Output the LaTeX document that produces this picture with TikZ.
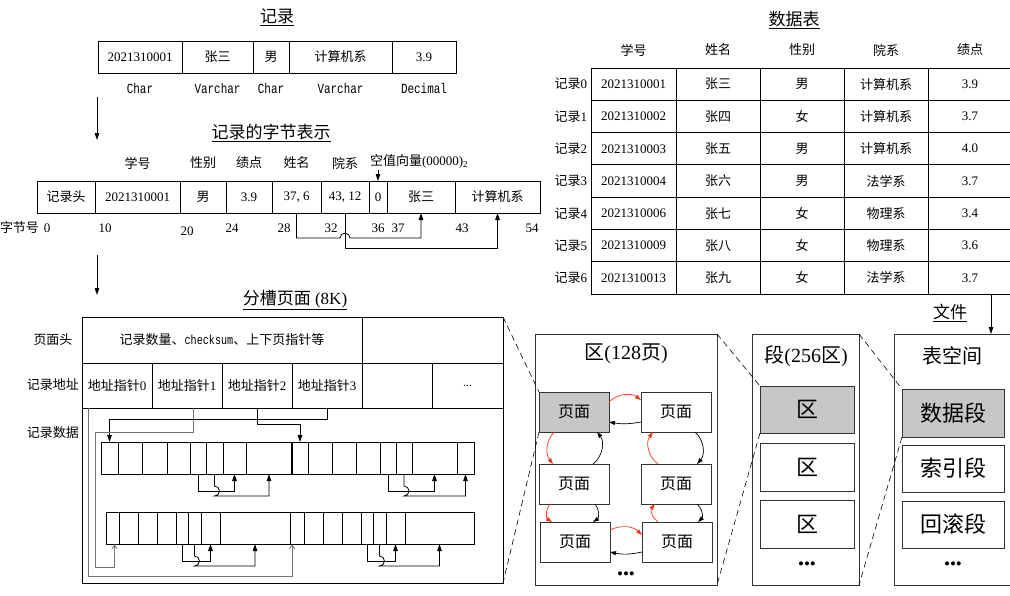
\documentclass[tikz,border=0pt]{standalone}
\usepackage{fontspec}
\setmainfont{Liberation Serif}
\setmonofont{Liberation Mono}
\newfontfamily\condmono[FakeStretch=0.78]{Liberation Mono}
\newfontfamily\cjk{Noto Sans CJK SC}
\usetikzlibrary{arrows.meta,calc}
\newcommand\fsz[1]{\fontsize{#1}{#1}\selectfont}
\newcommand\zh[1]{{\cjk #1}}
\definecolor{myred}{RGB}{240,55,20}
\begin{document}
\begin{tikzpicture}[x=1pt,y=-1pt,
  every node/.style={inner sep=0pt,outer sep=0pt},
  cell/.style={draw,line width=0.9pt,anchor=north west,font=\fsz{13}},
  rc/.style={draw,line width=0.9pt,anchor=north west,minimum height=32pt},
  lbl/.style={font=\fsz{13}},
  ttl/.style={font=\fsz{17}},
  tp/.style={font=\fsz{14}\condmono},
  big/.style={draw=black!80,line width=1pt,anchor=north west},
  pg/.style={draw=black!80,line width=0.9pt,anchor=north west,minimum width=70pt,minimum height=40pt,font=\fsz{16}},
  gfill/.style={fill=black!22},
  dotsx/.style={font=\fsz{17}},
  arr/.style={-{Triangle[length=7pt,width=4.5pt]},line width=0.8pt},
  garr/.style={-{Straight Barb[length=4pt,width=5pt]},line width=0.8pt,draw=black!55},
  rarr/.style={-{Triangle[length=6pt,width=4pt]},line width=0.7pt,draw=myred},
  barr/.style={-{Triangle[length=6pt,width=4pt]},line width=0.7pt},
  dsh/.style={dash pattern=on 6pt off 4pt,line width=0.6pt}]
\useasboundingbox (0,0) rectangle (1010,595);

% ---------- record ----------
\node[ttl] (tRec) at (277,17) {\underline{\zh{记录}}};
\node[cell,minimum width=84pt,minimum height=32pt] (r0) at (98,41) {2021310001};
\node[cell,minimum width=71pt,minimum height=32pt] (r1) at (182,41) {\zh{张三}};
\node[cell,minimum width=36pt,minimum height=32pt] (r2) at (253,41) {\zh{男}};
\node[cell,minimum width=103pt,minimum height=32pt] (r3) at (289,41) {\zh{计算机系}};
\node[cell,minimum width=64pt,minimum height=32pt] (r4) at (392,41) {3.9};
\foreach \n/\t in {0/Char,1/Varchar,2/Char,3/Varchar,4/Decimal}
  \node[tp] (rt\n) at ([yshift=-15pt]r\n.south) {\t};
\coordinate (a1s) at (97,97);
\coordinate (a1e) at (97,140);
\draw[arr] (a1s) -- (a1e);

% ---------- byte representation ----------
\node[ttl] (tByte) at (271,133) {\underline{\zh{记录的字节表示}}};
\node[cell,minimum width=58pt,minimum height=32pt] (b0) at (37,181) {\zh{记录头}};
\node[cell,minimum width=85pt,minimum height=32pt] (b1) at (95,181) {2021310001};
\node[cell,minimum width=46pt,minimum height=32pt] (b2) at (180,181) {\zh{男}};
\node[cell,minimum width=46pt,minimum height=32pt] (b3) at (226,181) {3.9};
\node[cell,minimum width=49pt,minimum height=32pt] (b4) at (272,181) {37, 6};
\node[cell,minimum width=48pt,minimum height=32pt] (b5) at (321,181) {43, 12};
\node[cell,minimum width=18pt,minimum height=32pt] (b6) at (369,181) {0};
\node[cell,minimum width=68pt,minimum height=32pt] (b7) at (387,181) {\zh{张三}};
\node[cell,minimum width=85pt,minimum height=32pt] (b8) at (455,181) {\zh{计算机系}};
\foreach \n/\t in {1/学号,2/性别,3/绩点,4/姓名,5/院系}
  \node[lbl] (bh\n) at ([yshift=18pt]b\n.north) {\zh{\t}};
\node[lbl,anchor=west] (nullv) at (370,161) {\zh{空值向量}(00000)\textsubscript{2}};
\coordinate (nvs) at ([yshift=11pt]b6.north);
\draw[arr] (nvs) -- (b6.north);
\node[lbl,anchor=east] (bn) at (39,228) {\zh{字节号}};
\foreach \x/\v in {47/0,105/10,232/24,284/28,331/32,378/36,398/37,462/43,532/54}
  \node[lbl] (bn\v) at (\x,228) {\v};
\node[lbl] (bn20) at (187,231) {20};
\draw[arr] (b4.south) -- (b4.south |- 0,238) -- ($(b5.south |- 0,238)+(-5,0)$) arc (180:0:5pt) -- (b7.south |- 0,238) -- (b7.south);
\draw[arr] (b5.south) -- (b5.south |- 0,248) -- (b8.south |- 0,248) -- (b8.south);
\coordinate (a2s) at (97,255);
\coordinate (a2e) at (97,295);
\draw[arr] (a2s) -- (a2e);

% ---------- data table ----------
\node[ttl] (tTab) at (794,20) {\underline{\zh{数据表}}};
\foreach \x/\t [count=\k] in {633.5/学号,718/姓名,802/性别,886/院系,970/绩点}
  \node[lbl] (th\k) at (\x,50) {\zh{\t}};
\foreach \i/\ca/\cb/\cc/\cd/\ce in {0/2021310001/张三/男/计算机系/3.9,1/2021310002/张四/女/计算机系/3.7,2/2021310003/张五/男/计算机系/4.0,3/2021310004/张六/男/法学系/3.7,4/2021310006/张七/女/物理系/3.4,5/2021310009/张八/女/物理系/3.6,6/2021310013/张九/女/法学系/3.7}{
  \pgfmathsetmacro\yy{68+32.3*\i}
  \node[cell,minimum width=85pt,minimum height=32.3pt] (dA\i) at (591,\yy) {\ca};
  \node[cell,minimum width=84pt,minimum height=32.3pt] (dB\i) at (676,\yy) {\zh{\cb}};
  \node[cell,minimum width=84pt,minimum height=32.3pt] (dC\i) at (760,\yy) {\zh{\cc}};
  \node[cell,minimum width=84pt,minimum height=32.3pt] (dD\i) at (844,\yy) {\zh{\cd}};
  \node[cell,minimum width=84pt,minimum height=32.3pt] (dE\i) at (928,\yy) {\ce};
  \node[lbl,anchor=east] (dl\i) at ([xshift=-4pt]dA\i.west) {\zh{记录}\i};
}
\node[ttl] (tFile) at (950,313) {\underline{\zh{文件}}};

% ---------- tablespace ----------
\node[big,minimum width=140pt,minimum height=251pt] (ts) at (894,334) {};
\node[font=\fsz{20}] (tsT) at (952,356) {\zh{表空间}};
\node[big,gfill,minimum width=102pt,minimum height=48pt,font=\fsz{22}] (g1) at (902,389) {\zh{数据段}};
\node[big,minimum width=102pt,minimum height=47pt,font=\fsz{22}] (g2) at (902,445) {\zh{索引段}};
\node[big,minimum width=102pt,minimum height=47pt,font=\fsz{22}] (g3) at (902,501) {\zh{回滚段}};
\node[dotsx] (gd) at (953,566) {•••};
\coordinate (fs) at (991,0 |- dE6.south west);
\draw[arr] (fs) -- (fs |- ts.north);

% ---------- segment ----------
\node[big,minimum width=107pt,minimum height=251pt] (sb) at (752,334) {};
\node[font=\fsz{20}] (sbT) at (806,356) {\zh{段}(256\zh{区})};
\node[big,gfill,minimum width=94pt,minimum height=47pt,font=\fsz{22}] (z1) at (760,386) {\zh{区}};
\node[big,minimum width=94pt,minimum height=48pt,font=\fsz{22}] (z2) at (760,443) {\zh{区}};
\node[big,minimum width=94pt,minimum height=48pt,font=\fsz{22}] (z3) at (760,500) {\zh{区}};
\node[dotsx] (zd) at (807,566) {•••};

% ---------- extent ----------
\node[big,minimum width=182pt,minimum height=251pt] (qb) at (535,334) {};
\node[font=\fsz{20}] (qbT) at (626,354) {\zh{区}(128\zh{页})};
\node[pg,gfill] (p1) at (539,392) {\zh{页面}};
\node[pg] (p2) at (641,392) {\zh{页面}};
\node[pg] (p3) at (539,464) {\zh{页面}};
\node[pg] (p4) at (641,464) {\zh{页面}};
\node[pg] (p5) at (540,522) {\zh{页面}};
\node[pg] (p6) at (642,522) {\zh{页面}};
\node[dotsx] (qd) at (626,576) {•••};
\draw[rarr] ([yshift=10pt]p1.east) to[bend left=40] ([yshift=12pt]p2.west);
\draw[barr] ([yshift=-10pt]p2.west) to[bend left=10] ([yshift=-10pt]p1.east);
\draw[rarr] ([xshift=-20pt]p1.south) to[bend right=40] ([xshift=-21pt]p3.north);
\draw[barr] ([xshift=19pt]p3.north) to[bend right=45] ([xshift=23pt]p1.south);
\draw[barr] ([xshift=19pt]p2.south) to[bend left=45] ([xshift=21pt]p4.north);
\draw[rarr] ([xshift=-18pt]p4.north) to[bend left=45] ([xshift=-23pt]p2.south);
\draw[rarr] ([xshift=-24pt]p3.south) to[bend right=50] ([xshift=-23pt]p5.north);
\draw[barr] ([xshift=21pt]p3.south) to[bend left=50] ([xshift=18pt]p5.north);
\draw[barr] ([xshift=21pt]p4.south) to[bend left=50] ([xshift=21pt]p6.north);
\draw[rarr] ([xshift=-19pt]p6.north) to[bend left=50] ([xshift=-21pt]p4.south);
\draw[rarr] ([yshift=12pt]p5.east) to[bend left=35] ([yshift=7pt]p6.west);
\draw[barr] ([yshift=-10pt]p6.west) to[bend left=12] ([yshift=-10pt]p5.east);

% ---------- slotted page ----------
\node[ttl] (tSlot) at (295,300) {\underline{\zh{分槽页面} (8K)}};
\node[cell,minimum width=421pt,minimum height=266pt] (sp) at (82,317) {};
\node[cell,minimum width=280pt,minimum height=46pt] (h1) at (82,317) {\zh{记录数量、}{\condmono checksum}\zh{、上下页指针等}};
\node[cell,minimum width=141pt,minimum height=46pt] (h2) at (362,317) {};
\node[cell,minimum width=70pt,minimum height=45pt] (a0) at (82,363) {\zh{地址指针}0};
\node[cell,minimum width=70pt,minimum height=45pt] (a1) at (152,363) {\zh{地址指针}1};
\node[cell,minimum width=70pt,minimum height=45pt] (a2) at (222,363) {\zh{地址指针}2};
\node[cell,minimum width=70pt,minimum height=45pt] (a3) at (292,363) {\zh{地址指针}3};
\node[cell,minimum width=70pt,minimum height=45pt] (a4) at (362,363) {};
\node[cell,minimum width=71pt,minimum height=45pt,font=\fsz{12}] (a5) at (432,363) {...};
\node[lbl] (lh) at (53,340) {\zh{页面头}};
\node[lbl] (la) at (53,385) {\zh{记录地址}};
\node[lbl] (ld) at (53,433) {\zh{记录数据}};
\foreach \xa/\xb [count=\k] in {101/118,118/142,142/167,167/190,190/206,206/223,223/246,246/292,292/308,308/332,332/356,356/380,380/396,396/412,412/457,457/474}
  \node[rc,minimum width={\xb pt-\xa pt}] (u\k) at (\xa,442) {};
\foreach \xa/\xb [count=\k] in {106/119,119/138,138/157,157/176,176/188,188/201,201/220,220/290,290/304,304/323,323/342,342/361,361/373,373/386,386/405,405/474}
  \node[rc,minimum width={\xb pt-\xa pt}] (v\k) at (\xa,512) {};
\draw[line width=2.8pt] (u8.north east) -- (u8.south east);
\foreach \pa/\pb/\pc/\pd in {u5/u6/u7/u8,u13/u14/u15/u16,v5/v6/v7/v8,v13/v14/v15/v16}{
  \draw[arr] (\pa.south) -- ++(0,17) -- ($(\pc.south)+(0,17)$) -- (\pc.south);
  \draw[arr] (\pb.south) -- ++(0,12) arc (90:-90:5pt) -- ($(\pd.south)+(0,22)$) -- (\pd.south);
}
\draw[arr] (a3.south) -- (a3.south |- 0,419) -- (u1.north |- 0,419) -- (u1.north);
\draw[arr] (a2.south) -- (a2.south |- 0,424) -- (u9.north |- 0,424) -- (u9.north);
\coordinate (wA) at ([xshift=6pt]a1.south);
\coordinate (v1t) at ([xshift=2pt]v1.south);
\draw[garr] (wA) -- (wA |- 0,432) -- (95,432) -- (95,567) -- (v1t |- 0,567) -- (v1t);
\coordinate (wD) at ([xshift=-29pt]a0.south);
\coordinate (v9t) at ([xshift=2pt]v9.south west);
\draw[garr] (wD) -- (wD |- 0,576) -- (v9t |- 0,576) -- (v9t);

% ---------- zoom dashes ----------
\draw[dsh] (sp.north east) -- (p1.north west);
\draw[dsh] (p1.south west) -- (sp.south east);
\draw[dsh] (qb.north east) -- (z1.north west);
\draw[dsh] (z1.south west) -- (qb.south east);
\draw[dsh] (sb.north east) -- (g1.north west);
\draw[dsh] (g1.south west) -- (sb.south east);
\end{tikzpicture}
\end{document}
